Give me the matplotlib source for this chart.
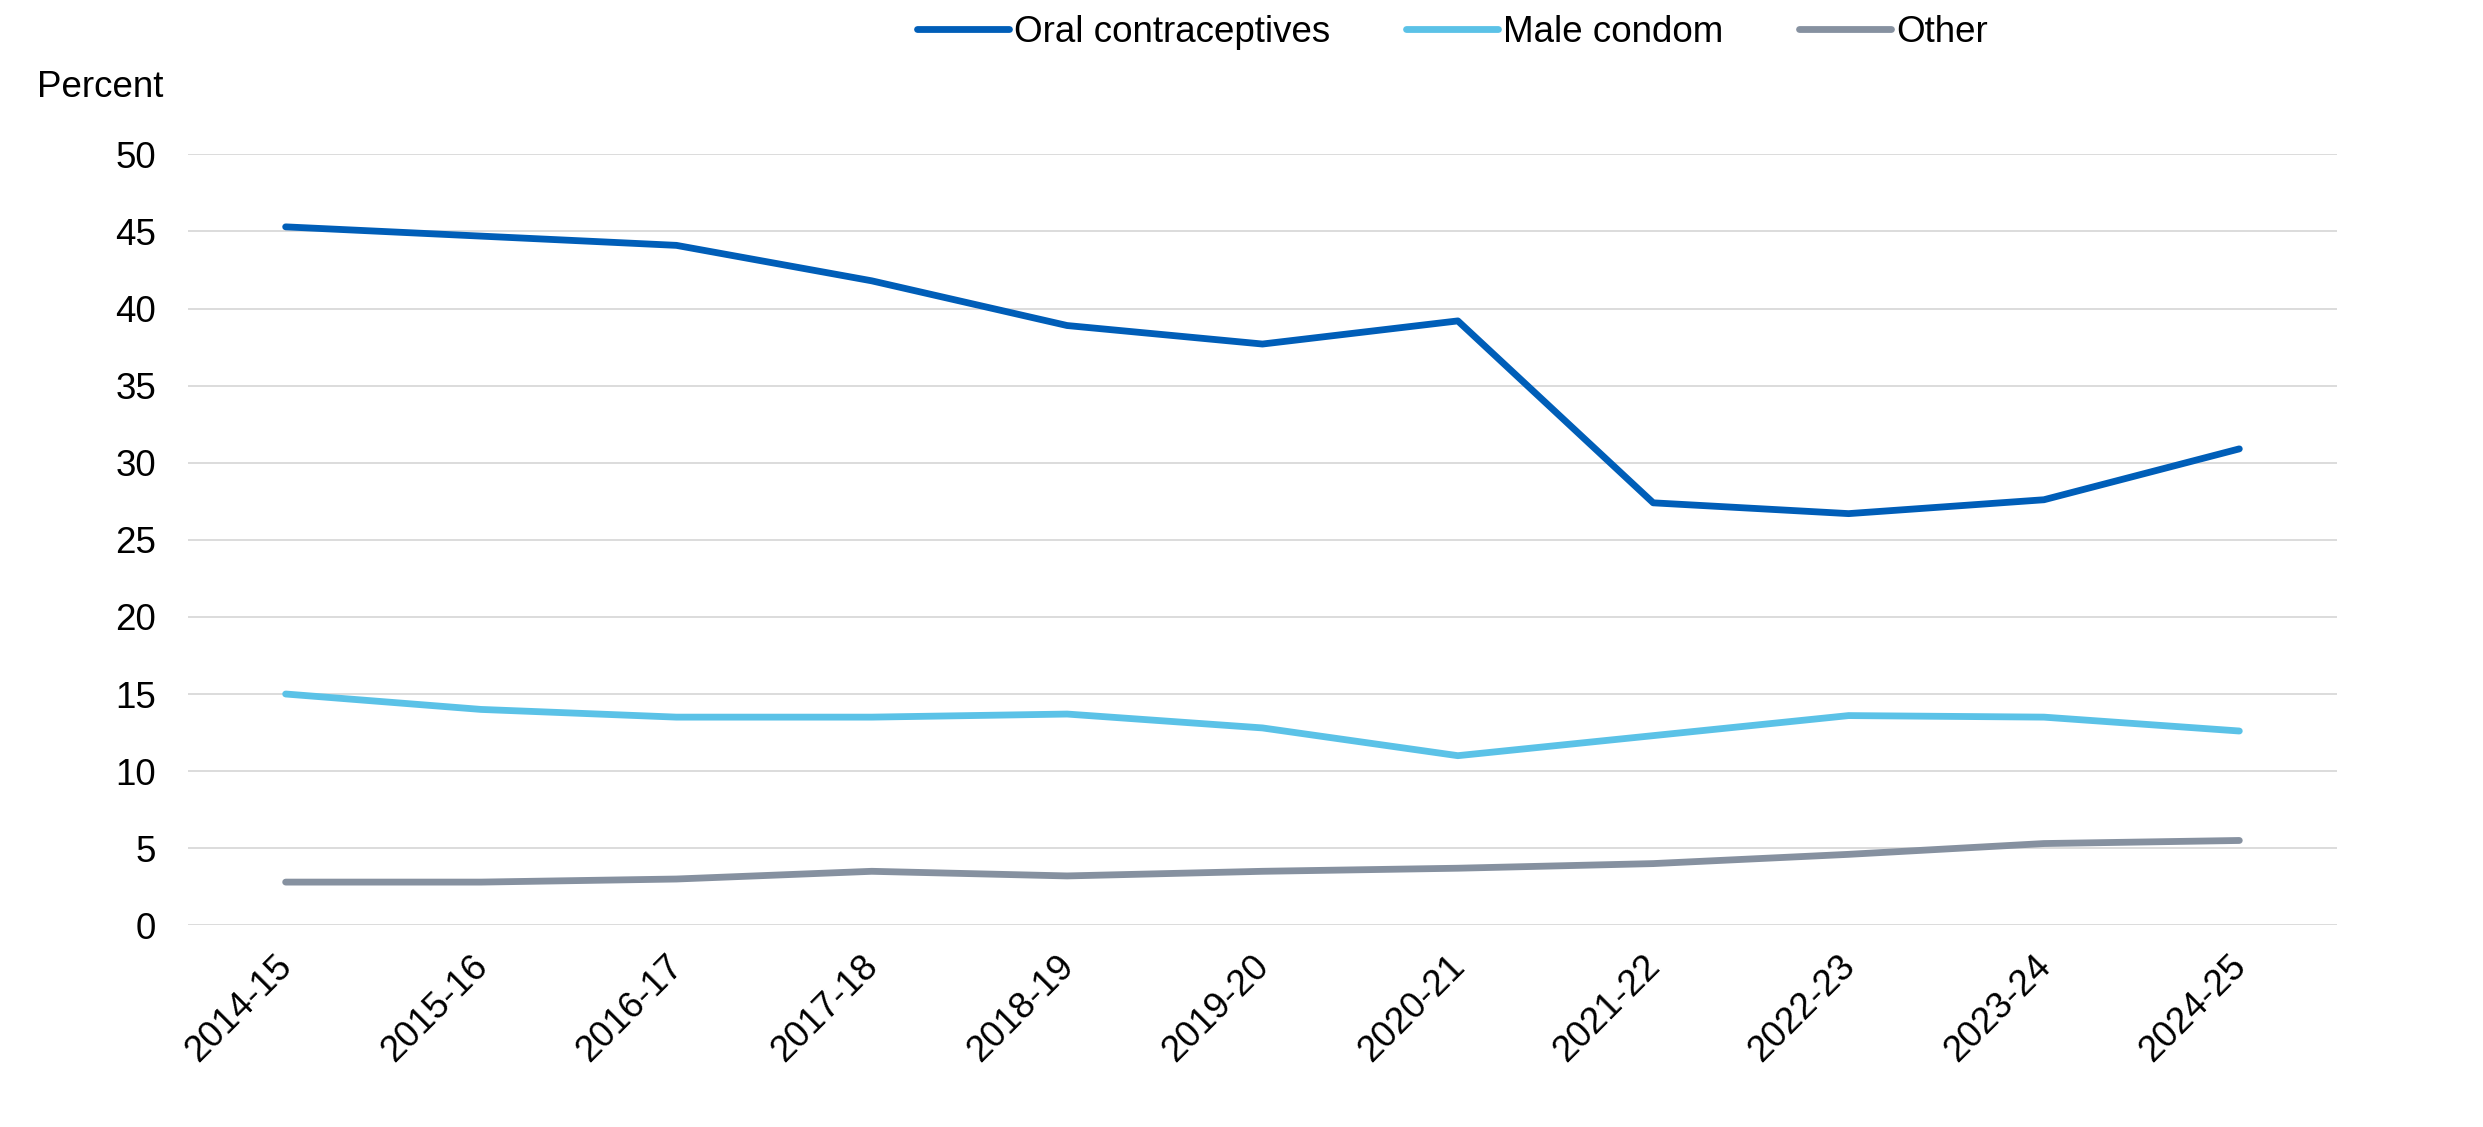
import matplotlib
matplotlib.use('Agg')
from matplotlib import pyplot as plt
from matplotlib.transforms import ScaledTranslation

# --- data ---
years = ['2014-15', '2015-16', '2016-17', '2017-18', '2018-19', '2019-20',
         '2020-21', '2021-22', '2022-23', '2023-24', '2024-25']
oral = [45.3, 44.7, 44.1, 41.8, 38.9, 37.7, 39.2, 27.4, 26.7, 27.6, 30.9]
condom = [15.0, 14.0, 13.5, 13.5, 13.7, 12.8, 11.0, 12.3, 13.6, 13.5, 12.6]
other = [2.8, 2.8, 3.0, 3.5, 3.2, 3.5, 3.7, 4.0, 4.6, 5.3, 5.5]

plt.rcParams['font.family'] = ['Liberation Sans', 'DejaVu Sans']
fs = 26.5

fig = plt.figure(figsize=(24.83, 11.27), dpi=100)
ax = fig.add_axes([0.0757, 0.179, 0.8655, 0.684])

xx = range(len(years))
ax.plot(xx, oral, color='#005EB8', lw=4.9, solid_capstyle='round', label='Oral contraceptives')
ax.plot(xx, condom, color='#5BC2E7', lw=4.9, solid_capstyle='round', label='Male condom')
ax.plot(xx, other, color='#8691A0', lw=4.9, solid_capstyle='round', label='Other')

ax.set_ylim(0, 50)
ax.set_yticks(range(0, 51, 5))
ax.set_xlim(-0.5, 10.5)
ax.set_xticks(list(xx))
ax.set_xticklabels(years, rotation=45, ha='right', va='top', rotation_mode='anchor')
ax.tick_params(length=0, labelsize=fs)
ax.tick_params(axis='x', pad=17)
ax.tick_params(axis='y', pad=23)
# nudge the rotated labels a little to the left
shift = ScaledTranslation(-0.11, 0, fig.dpi_scale_trans)
for lab in ax.get_xticklabels():
    lab.set_transform(lab.get_transform() + shift)
ax.grid(axis='y', color='#D9D9D9', lw=1.3)
ax.set_axisbelow(True)
for sp in ax.spines.values():
    sp.set_visible(False)

fig.text(0.0149, 0.922, 'Percent', fontsize=fs, va='center', ha='left')

fig.legend(loc='center', bbox_to_anchor=(0.585, 0.971), ncol=3, frameon=False,
           fontsize=fs, handlelength=2.5, handletextpad=0.15, columnspacing=2.05)

fig.savefig('out.png', dpi=100)
